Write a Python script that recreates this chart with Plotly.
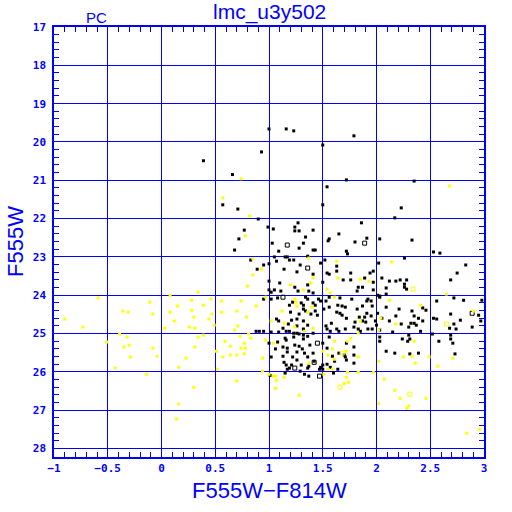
import plotly.graph_objects as go

# ---- data (colour F555W-F814W, magnitude F555W) ----
black_x = [1.00, 1.16, 1.23, 1.79, 1.50, 0.93, 0.39, 0.66, 1.72, 1.54, 2.35, 0.57, 1.50, 2.23, 0.71, 2.17, 0.90, 1.86, 1.27, 1.24,
           0.99, 0.77, 0.72, 0.68, 0.83,
           1.04, 1.24, 1.28, 1.41, 1.34, 1.32, 1.03, 1.41, 1.43, 1.09, 1.28, 1.15, 1.17, 1.05, 1.36, 1.23, 1.19, 1.07, 1.00, 1.29,
           0.95, 0.89, 1.26, 1.41, 1.14, 1.24, 1.36, 1.00, 1.10, 1.05, 1.00, 1.02, 1.11, 1.27, 1.37, 1.41, 1.02, 1.08, 1.34, 1.36,
           1.65, 1.56, 1.55, 1.80, 1.91, 2.03, 1.72, 1.73, 1.63, 1.48, 1.52, 1.63, 2.02, 1.54, 1.56, 1.76, 1.94, 1.97, 1.50, 1.69,
           1.76, 1.89, 1.97, 1.83, 1.87, 1.82, 1.97, 2.01, 2.03, 1.56, 1.66, 1.77, 1.92, 1.46,
           0.95, 1.19, 1.22, 1.30, 1.32, 1.41, 1.43, 1.32, 1.34, 1.43, 1.45, 1.39, 1.28, 1.20, 1.07, 1.09, 1.21, 1.26, 1.32, 1.18,
           1.13, 1.26, 1.36, 1.32, 0.88, 0.91, 0.95, 1.02, 1.09, 1.16, 1.19, 1.23, 1.26, 1.28, 1.32, 1.36, 1.41, 1.23, 1.32, 1.15,
           1.16, 1.08, 1.00, 1.13, 1.17, 1.24, 1.28, 1.31, 1.38, 1.06, 1.17, 1.26, 1.33, 1.41, 1.13, 1.02, 1.22, 1.26, 1.36, 1.42,
           1.37, 1.14, 1.16, 1.21, 1.30, 1.17, 1.19, 1.29, 1.36, 1.33, 1.37, 1.01, 1.15,
           1.48, 1.53, 1.64, 1.56, 1.68, 1.71, 1.91, 1.95, 1.87, 1.96, 1.51, 1.63, 1.66, 1.68, 1.82, 1.91, 2.01, 1.95, 1.72, 1.84,
           1.89, 1.87, 1.90, 1.80, 1.58, 1.99, 1.53, 1.54, 1.57, 1.63, 1.65, 1.71, 1.79, 1.83, 1.85, 1.92, 1.96, 2.00, 2.03, 2.05,
           2.03, 2.03, 1.50, 1.54, 1.56, 1.72, 1.79, 1.65, 1.70, 1.71, 1.59, 1.61, 1.72, 1.54, 1.50, 1.48, 1.47, 1.50, 1.57, 1.64,
           1.79, 1.79, 1.60,
           2.33, 2.53, 2.59, 2.26, 2.83, 2.75, 2.69, 2.05, 2.12, 2.18, 2.22, 2.28, 2.26, 2.26, 2.28, 2.09, 2.09, 2.03, 2.56, 2.72,
           2.81, 2.98, 2.09, 2.21, 2.33, 2.43, 2.46, 2.18, 2.35, 2.39, 2.43, 2.12, 2.23, 2.32, 2.35, 2.37, 2.30, 2.41, 2.53, 2.56,
           2.69, 2.78, 2.72, 2.68, 2.74, 2.95, 2.97, 2.89, 2.15, 2.30, 2.52, 2.69, 2.69, 2.24, 2.31,
           2.29, 2.58, 2.71, 2.73, 2.09, 2.17, 2.31, 2.39]
black_y = [19.66, 19.66, 19.71, 19.84, 20.08, 20.26, 20.49, 20.85, 20.99, 21.17, 21.02, 21.64, 21.64, 21.72, 21.75, 21.98, 22.01, 22.11, 22.11, 22.22,
           22.22, 22.30, 22.53, 22.82, 23.08,
           22.27, 22.32, 22.32, 22.30, 22.48, 22.64, 22.64, 22.82, 22.82, 22.85, 22.77, 23.00, 23.00, 23.00, 22.98, 23.08, 23.08, 23.11, 23.18, 23.21,
           23.21, 23.32, 23.39, 23.45, 23.32, 23.79, 23.73, 23.63, 23.68, 23.86, 23.86, 23.92, 23.89, 23.89, 23.89, 23.94, 24.10, 24.07, 24.05, 24.10,
           22.40, 22.53, 22.58, 22.61, 22.51, 22.53, 22.85, 22.92, 23.24, 23.16, 23.08, 23.37, 23.16, 23.42, 23.45, 23.42, 23.42, 23.37, 23.66, 23.60,
           23.60, 23.55, 23.66, 23.79, 23.79, 23.89, 23.86, 24.00, 24.02, 24.05, 24.07, 24.10, 24.10, 24.10,
           24.10, 24.26, 24.18, 24.20, 24.26, 24.20, 24.26, 24.36, 24.41, 24.41, 24.52, 24.49, 24.49, 24.44, 24.62, 24.67, 24.65, 24.62, 24.67, 24.75,
           24.86, 24.80, 24.78, 24.88, 24.94, 24.94, 24.94, 24.96, 24.96, 24.94, 24.94, 24.99, 24.99, 25.01, 25.04, 25.07, 24.99, 25.09, 25.14, 25.12,
           25.17, 25.22, 25.25, 25.35, 25.38, 25.30, 25.33, 25.40, 25.30, 25.40, 25.48, 25.48, 25.51, 25.51, 25.59, 25.61, 25.61, 25.69, 25.61, 25.72,
           25.85, 25.75, 25.82, 25.82, 25.82, 25.93, 25.90, 25.98, 25.90, 26.06, 26.11, 26.09, 26.03,
           24.15, 24.15, 24.26, 24.31, 24.28, 24.31, 24.15, 24.15, 24.28, 24.28, 24.36, 24.44, 24.47, 24.52, 24.36, 24.47, 24.47, 24.54, 24.60, 24.57,
           24.57, 24.67, 24.70, 24.70, 24.73, 24.67, 24.80, 24.88, 24.94, 24.88, 24.94, 24.88, 24.83, 24.88, 24.94, 24.88, 24.88, 24.78, 24.91, 24.60,
           25.09, 25.20, 25.25, 25.38, 25.09, 25.25, 25.35, 25.51, 25.56, 25.61, 25.59, 25.72, 25.69, 25.80, 25.82, 25.88, 25.93, 25.93, 25.88, 25.93,
           25.77, 25.56, 26.03,
           22.56, 22.87, 22.90, 23.03, 23.21, 23.42, 23.60, 23.55, 23.63, 23.63, 23.60, 23.60, 23.71, 23.79, 23.84, 23.81, 23.97, 24.05, 24.15, 24.07,
           24.13, 24.13, 24.31, 24.36, 24.41, 24.33, 24.39, 24.54, 24.54, 24.60, 24.67, 24.67, 24.75, 24.73, 24.73, 24.78, 24.83, 24.94, 24.60, 24.62,
           24.49, 24.65, 24.75, 24.86, 24.88, 24.52, 24.67, 24.83, 24.96, 25.04, 25.01, 25.04, 25.14, 25.14, 25.14,
           25.20, 25.20, 25.25, 25.53, 25.46, 25.51, 25.53, 25.51]

black_open_x = [1.17, 1.36, 1.13, 1.89, 1.45, 1.42, 1.24, 1.47, 2.89]
black_open_y = [22.69, 23.29, 24.05, 22.64, 25.25, 25.75, 25.90, 26.11, 24.47]

yellow_x = [0.74, 0.57, 0.82, 2.68,
            0.78, 0.85, 0.85, 0.80, 0.46, 0.39, 0.56, 0.74, 0.88, 0.47, 0.44, 0.56, 0.70, 0.79, 0.49, 0.71,
            0.68, 0.73, 0.81, 0.83, 0.39, 0.59, 0.64, 0.77, 0.78, 0.74, 0.51, 0.57, 0.64, 0.70, 0.77, 0.52, 0.94, 0.94,
            1.02, 1.12, 1.14, 1.25, 1.26, 1.36, 1.40, 1.24, 1.33, 1.41, 0.97, 1.04, 1.37, 1.00, 1.04, 1.06, 1.14,
            0.93, 1.39, 1.20, 1.32, 0.97, 1.24, 1.41, 1.37,
            1.63, 1.64, 1.85, 1.93, 1.54, 1.57, 1.61,
            1.85, 2.04, 2.02, 1.83, 1.76, 1.61, 1.73, 1.50, 1.59, 1.55, 1.72, 1.83, 2.02, 1.61, 1.55, 1.59, 1.51, 1.73,
            1.83, 1.97, 1.72,
            2.14, 2.65, 2.12, 2.41, 2.18, 2.90,
            2.25, 2.36, 2.49, 2.57, 2.71, 2.07, 2.33, 2.35,
            1.06, 1.07, 1.28, 1.70, 1.74, 2.02, 2.17, 2.22, 2.28, 2.30, 2.46, 2.84, 2.96,
            -0.90, -0.73, -0.59, -0.39, -0.51, -0.32, -0.30, -0.35, -0.29, -0.43, -0.14, -0.36, -0.31, -0.11, -0.08, -0.08,
            -0.04, 0.03, 0.08, 0.08, 0.15, 0.12, 0.16, 0.23, 0.26, 0.28, 0.28, 0.30, 0.31, 0.31, 0.30, 0.34, 0.34, 0.16,
            0.14, 0.70]
yellow_y = [20.96, 21.46, 21.93, 21.15,
            22.45, 23.05, 23.47, 23.76, 24.10, 24.26, 24.15, 24.15, 24.28, 24.49, 24.62, 24.44, 24.41, 24.57, 24.78, 24.80,
            24.91, 25.07, 25.01, 25.12, 25.04, 25.20, 25.33, 25.25, 25.38, 25.38, 25.46, 25.61, 25.56, 25.56, 25.53, 25.93, 25.64, 25.98,
            24.67, 24.41, 24.73, 24.18, 24.28, 24.44, 24.31, 24.83, 24.94, 24.86, 25.17, 25.25, 25.77, 26.06, 26.11, 26.11, 26.14,
            23.32, 23.68, 23.73, 23.86, 24.05, 24.10, 23.55, 23.03,
            23.11, 23.55, 23.58, 23.63, 23.84, 23.94, 24.05,
            24.67, 24.60, 24.91, 24.99, 25.12, 25.20, 25.20, 25.46, 25.40, 25.56, 25.46, 25.61, 25.72, 25.67, 25.93, 25.93, 26.06, 26.01,
            26.01, 26.01, 26.14,
            23.13, 23.97, 24.13, 24.26, 24.75, 24.41,
            25.61, 25.77, 25.61, 25.85, 25.64, 26.19, 25.59, 25.20,
            26.43, 26.22, 26.61, 26.30, 26.27, 26.82, 26.48, 26.69, 26.95, 26.89, 26.69, 27.60, 27.50,
            24.62, 24.83, 24.07, 25.01, 25.22, 25.09, 25.30, 25.35, 25.61, 25.90, 26.06, 24.41, 24.44, 24.18, 24.49, 25.38,
            25.59, 24.86, 24.44, 24.00, 24.28, 24.67, 25.88, 25.64, 24.83, 24.13, 24.39, 24.57, 24.86, 25.35, 26.40, 25.09, 23.92, 26.84,
            27.23, 26.24]

yellow_open_x = [1.66, 2.31, 2.34, 2.65, 1.68]
yellow_open_y = [26.40, 26.58, 23.84, 24.75, 25.51]

x_ticks = [-1, -0.5, 0, 0.5, 1, 1.5, 2, 2.5, 3]
x_tick_labels = ["\u22121", "\u22120.5", "0", "0.5", "1", "1.5", "2", "2.5", "3"]
y_ticks = list(range(17, 29))

title_text = "lmc_u3y502"
corner_text = "PC"
x_title = "F555W\u2212F814W"
y_title = "F555W"

BLUE = "#0000ff"
YELLOW = "#ffff00"

fig = go.Figure()
fig.add_trace(go.Scatter(x=black_x, y=black_y, mode="markers",
                         marker=dict(symbol="square", size=3, color="black", line=dict(width=0)),
                         showlegend=False, hoverinfo="skip"))
fig.add_trace(go.Scatter(x=black_open_x, y=black_open_y, mode="markers",
                         marker=dict(symbol="square-open", size=4, color="black", line=dict(width=1)),
                         showlegend=False, hoverinfo="skip"))
fig.add_trace(go.Scatter(x=yellow_x, y=yellow_y, mode="markers",
                         marker=dict(symbol="square", size=3, color=YELLOW, line=dict(width=0)),
                         showlegend=False, hoverinfo="skip"))
fig.add_trace(go.Scatter(x=yellow_open_x, y=yellow_open_y, mode="markers",
                         marker=dict(symbol="square-open", size=4, color=YELLOW, line=dict(width=1)),
                         showlegend=False, hoverinfo="skip"))

tickfont = dict(family="DejaVu Sans Mono", size=11, color=BLUE, weight="bold")

fig.update_xaxes(range=[-1, 3], tickmode="array", tickvals=x_ticks, ticktext=x_tick_labels,
                 showgrid=True, gridcolor=BLUE, gridwidth=1, zeroline=False,
                 showline=True, linecolor=BLUE, linewidth=1.5, mirror="allticks",
                 ticks="inside", ticklen=6, tickcolor=BLUE, tickwidth=1,
                 tickfont=tickfont, ticklabelstandoff=0,
                 minor=dict(dtick=0.1, ticks="inside", ticklen=5, tickcolor=BLUE, tickwidth=1, showgrid=False))
fig.update_yaxes(range=[28.22, 17], tickmode="array", tickvals=y_ticks,
                 showgrid=True, gridcolor=BLUE, gridwidth=1, zeroline=False,
                 showline=True, linecolor=BLUE, linewidth=1.5, mirror="allticks",
                 ticks="inside", ticklen=6, tickcolor=BLUE, tickwidth=1,
                 tickfont=tickfont, ticklabelstandoff=4,
                 minor=dict(dtick=0.2, ticks="inside", ticklen=5, tickcolor=BLUE, tickwidth=1, showgrid=False))

annot_font = dict(family="Liberation Sans", color=BLUE)
fig.add_annotation(text=title_text, xref="paper", yref="paper", x=0.5, y=1.035,
                   xanchor="center", yanchor="middle", showarrow=False,
                   font=dict(**annot_font, size=21))
fig.add_annotation(text=corner_text, xref="paper", yref="paper", x=0.098, y=1.021,
                   xanchor="center", yanchor="middle", showarrow=False,
                   font=dict(**annot_font, size=15))
fig.add_annotation(text=x_title, xref="paper", yref="paper", x=0.5, y=-0.079,
                   xanchor="center", yanchor="middle", showarrow=False,
                   font=dict(**annot_font, size=22))
fig.add_annotation(text=y_title, xref="paper", yref="paper", x=-0.091, y=0.502,
                   xanchor="center", yanchor="middle", showarrow=False, textangle=-90,
                   font=dict(**annot_font, size=22))

fig.update_layout(width=512, height=512, margin=dict(l=54, r=28, t=27, b=55),
                  paper_bgcolor="white", plot_bgcolor="white")

# remove the default 8 px page margin so the 512x512 figure fills the window exactly
fig.write_html("out.html", config={"displayModeBar": False},
               post_script="document.body.style.margin='0';")
